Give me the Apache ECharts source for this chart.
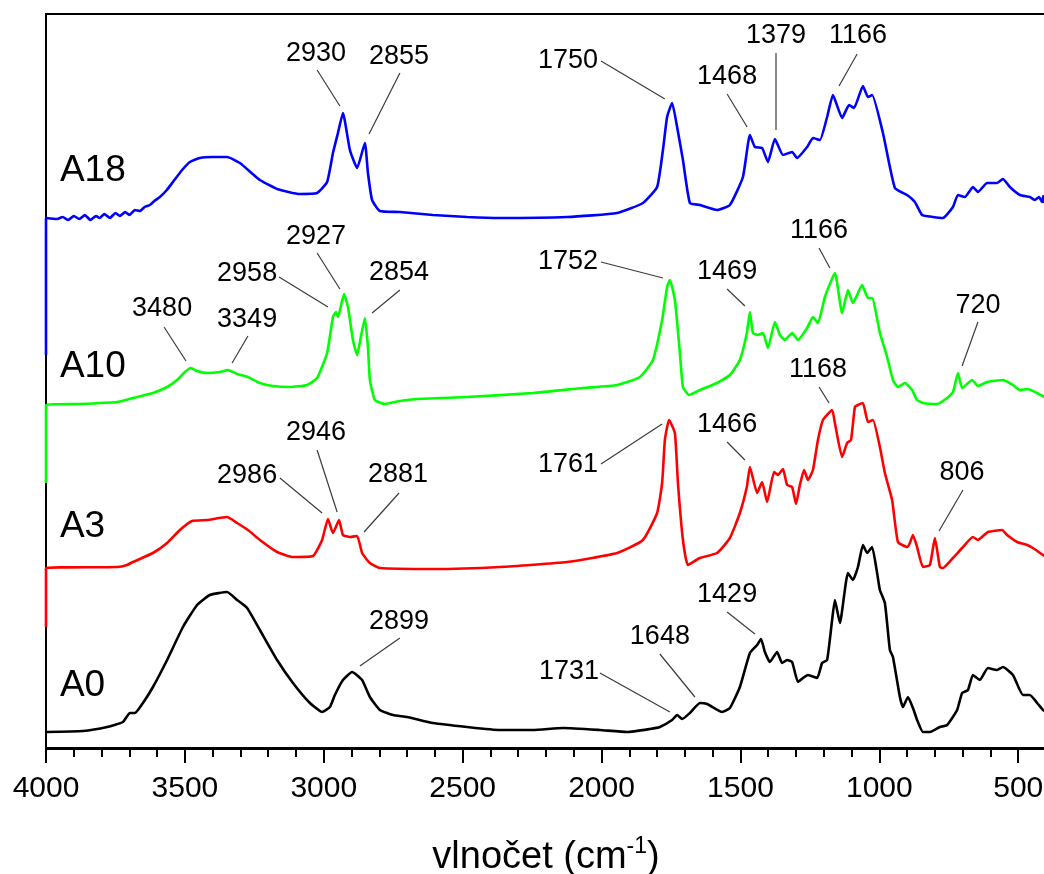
<!DOCTYPE html>
<html>
<head>
<meta charset="utf-8">
<script src="https://cdn.jsdelivr.net/npm/echarts@6/dist/echarts.min.js"></script>
<style>
  html, body { margin: 0; padding: 0; background: #fff; }
  #chart { width: 1044px; height: 874px; }
</style>
</head>
<body>
<div id="chart"></div>
<script>
const FONT = '"Liberation Sans", Arial, sans-serif';

// FTIR spectra, stacked: [wavenumber (cm-1), intensity incl. offset]
const a18 = [
  [4000, 393], [4000, 530], [3960, 529], [3940, 531], [3920, 528], [3900, 532], [3880, 529],
  [3860, 533], [3840, 528], [3820, 532], [3806, 530], [3790, 534], [3770, 530], [3750, 535],
  [3734, 532], [3715, 536], [3700, 533], [3680, 538], [3662, 537], [3645, 541], [3626, 543],
  [3610, 547], [3590, 551], [3565, 558], [3543, 566], [3510, 578], [3482, 586], [3446, 590],
  [3400, 591], [3348, 591], [3302, 585], [3260, 575], [3230, 568], [3168, 559], [3086, 554],
  [3024, 555], [2988, 566], [2967, 595], [2949, 615], [2931, 635], [2906, 598], [2880, 580],
  [2852, 605], [2841, 575], [2826, 548], [2798, 537], [2726, 536], [2607, 533], [2484, 531],
  [2366, 530], [2124, 531], [1944, 535], [1851, 545], [1800, 561], [1779, 598], [1764, 631],
  [1746, 645], [1728, 621], [1707, 588], [1682, 545], [1646, 543], [1584, 538], [1538, 543],
  [1491, 571], [1466, 613], [1448, 601], [1422, 600], [1401, 586], [1376, 609], [1347, 593],
  [1314, 596], [1296, 590], [1260, 601], [1239, 610], [1214, 608], [1188, 631], [1167, 653],
  [1134, 630], [1109, 643], [1091, 640], [1059, 662], [1041, 651], [1026, 653], [987, 615],
  [944, 560], [900, 553], [872, 546], [846, 533], [807, 531], [771, 530], [735, 541],
  [717, 553], [692, 551], [663, 561], [645, 556], [612, 565], [576, 565], [555, 569],
  [530, 561], [494, 553], [458, 551], [440, 548], [425, 551], [414, 546], [410, 552], [406, 545]
];

const a10 = [
  [4000, 265], [4000, 343], [3878, 344], [3744, 346], [3687, 350], [3615, 355], [3564, 361],
  [3528, 368], [3500, 376], [3478, 380], [3456, 377], [3420, 375], [3374, 376], [3345, 378],
  [3312, 374], [3273, 371], [3230, 365], [3183, 362], [3122, 361], [3060, 363], [3024, 370],
  [2988, 395], [2967, 431], [2956, 436], [2949, 431], [2927, 454], [2913, 441], [2895, 408],
  [2880, 393], [2870, 406], [2852, 430], [2841, 401], [2834, 368], [2816, 348], [2780, 344],
  [2726, 347], [2664, 349], [2484, 351], [2247, 355], [2067, 360], [1944, 363], [1862, 371],
  [1815, 388], [1782, 428], [1764, 461], [1754, 468], [1736, 448], [1718, 395], [1707, 361],
  [1685, 353], [1646, 358], [1584, 365], [1538, 373], [1502, 388], [1477, 415], [1466, 436],
  [1455, 415], [1437, 413], [1419, 415], [1401, 400], [1376, 426], [1358, 413], [1340, 408],
  [1314, 415], [1293, 408], [1260, 420], [1239, 431], [1221, 425], [1196, 451], [1160, 475],
  [1134, 435], [1113, 458], [1095, 445], [1062, 463], [1041, 450], [1026, 450], [998, 415],
  [972, 391], [951, 368], [933, 361], [908, 365], [882, 358], [864, 348], [843, 345],
  [792, 344], [756, 350], [735, 356], [717, 375], [702, 360], [666, 368], [645, 362],
  [612, 366], [555, 368], [519, 363], [494, 358], [465, 359], [432, 355], [406, 351]
];

const a3 = [
  [4000, 121], [4000, 180], [3744, 181], [3708, 183], [3687, 186], [3615, 195], [3564, 205],
  [3518, 218], [3474, 227], [3420, 228], [3348, 231], [3312, 225], [3273, 218], [3230, 208],
  [3168, 196], [3111, 191], [3039, 192], [3006, 208], [2985, 229], [2967, 215], [2945, 228],
  [2931, 213], [2906, 211], [2880, 212], [2862, 195], [2834, 185], [2798, 180], [2607, 179],
  [2366, 181], [2124, 186], [1944, 195], [1851, 208], [1800, 235], [1782, 265], [1772, 308],
  [1757, 328], [1736, 315], [1725, 265], [1707, 208], [1689, 183], [1646, 190], [1584, 195],
  [1538, 210], [1502, 235], [1477, 261], [1466, 281], [1440, 255], [1422, 266], [1404, 246],
  [1379, 276], [1365, 273], [1347, 279], [1332, 263], [1314, 261], [1300, 244], [1286, 263],
  [1271, 278], [1257, 268], [1239, 278], [1221, 308], [1203, 328], [1170, 338], [1160, 325],
  [1134, 291], [1116, 305], [1102, 308], [1088, 341], [1077, 343], [1059, 345], [1041, 326],
  [1023, 328], [998, 301], [980, 275], [954, 248], [933, 206], [900, 201], [890, 205],
  [879, 213], [864, 201], [843, 181], [818, 183], [800, 210], [782, 181], [771, 180],
  [735, 190], [702, 200], [663, 211], [645, 208], [609, 216], [558, 218], [540, 213],
  [504, 206], [468, 203], [447, 200], [411, 193], [406, 192]
];

const a0 = [
  [4000, 16], [3867, 17], [3780, 21], [3723, 26], [3698, 35], [3680, 35], [3651, 45],
  [3615, 61], [3564, 88], [3507, 121], [3456, 143], [3410, 153], [3348, 156], [3312, 148],
  [3276, 140], [3230, 118], [3168, 88], [3111, 65], [3050, 45], [3006, 36], [2978, 41],
  [2960, 53], [2931, 68], [2898, 76], [2862, 68], [2834, 51], [2798, 38], [2751, 33],
  [2700, 31], [2607, 25], [2484, 21], [2366, 18], [2247, 18], [2139, 20], [2006, 18],
  [1908, 16], [1826, 19], [1790, 21], [1746, 28], [1728, 33], [1710, 29], [1682, 35],
  [1646, 45], [1620, 44], [1566, 36], [1538, 40], [1502, 61], [1466, 95], [1440, 103],
  [1426, 109], [1412, 96], [1394, 86], [1368, 96], [1350, 85], [1332, 88], [1314, 86],
  [1293, 66], [1275, 70], [1257, 73], [1224, 70], [1206, 85], [1188, 88], [1170, 128],
  [1160, 148], [1142, 125], [1113, 175], [1095, 168], [1077, 181], [1059, 203], [1044, 195],
  [1026, 201], [1008, 175], [998, 158], [980, 145], [962, 98], [951, 91], [926, 51],
  [915, 41], [897, 51], [879, 40], [864, 28], [843, 16], [818, 16], [782, 21], [756, 23],
  [720, 38], [702, 55], [681, 58], [663, 73], [638, 68], [609, 80], [576, 78], [555, 81],
  [519, 73], [483, 53], [458, 53], [432, 45], [411, 38], [406, 37]
];

const sampleNames = ['A18', 'A10', 'A3', 'A0'];
const sampleColors = ['#0000ff', '#00ff00', '#ff0000', '#000000'];
const sampleData = [a18, a10, a3, a0];
// where the sample name sits: [wavenumber, intensity]
const namePos = [[3950, 577], [3950, 381], [3950, 221], [3950, 62]];

// peak labels: text, text centre (wn, y), leader line start (wn, y), end (wn, y)
const peaks = [
  ['2930', 3028, 694, 3024, 678, 2942, 642],
  ['2855', 2729, 691, 2726, 675, 2837, 614],
  ['1750', 2121, 687, 2002, 687, 1772, 649],
  ['1468', 1548, 671, 1548, 654, 1476, 621],
  ['1379', 1372, 712, 1372, 695, 1372, 618],
  ['1166', 1077, 712, 1080, 694, 1145, 662],
  ['3480', 3582, 439, 3575, 421, 3496, 387],
  ['3349', 3276, 428, 3273, 412, 3330, 385],
  ['2958', 3276, 474, 3161, 471, 2985, 441],
  ['2927', 3028, 511, 3024, 495, 2942, 459],
  ['2854', 2729, 475, 2726, 458, 2826, 435],
  ['1752', 2121, 486, 2002, 486, 1779, 470],
  ['1469', 1548, 476, 1548, 459, 1484, 442],
  ['1166', 1217, 517, 1217, 500, 1178, 480],
  ['720', 645, 442, 645, 426, 702, 382],
  ['2946', 3028, 315, 3024, 298, 2952, 236],
  ['2986', 3276, 272, 3158, 270, 3006, 235],
  ['2881', 2733, 273, 2729, 255, 2855, 216],
  ['1761', 2121, 283, 2002, 284, 1782, 324],
  ['1466', 1548, 323, 1548, 306, 1484, 288],
  ['1168', 1221, 378, 1217, 361, 1181, 345],
  ['806', 702, 275, 699, 258, 785, 217],
  ['2899', 2729, 126, 2726, 110, 2870, 82],
  ['1731', 2117, 76, 2006, 75, 1754, 36],
  ['1648', 1790, 111, 1790, 94, 1664, 51],
  ['1429', 1548, 153, 1548, 136, 1448, 114]
];

const chart = echarts.init(document.getElementById('chart'));

const baseX = {
  type: 'value',
  min: -4000,
  max: -400,
  position: 'bottom',
  splitLine: { show: false }
};

const option = {
  animation: false,
  backgroundColor: '#ffffff',
  grid: {
    left: 46,
    right: -2,
    top: 14,
    bottom: 125,
    show: true,
    borderColor: '#000',
    borderWidth: 2,
    outerBoundsMode: 'none'
  },
  xAxis: [
    Object.assign({}, baseX, {
      interval: 500,
      name: '{a|vlnočet (cm}{b|-1}{a|)}',
      nameLocation: 'middle',
      nameGap: 86,
      nameTextStyle: {
        rich: {
          a: { fontSize: 38, lineHeight: 42, fontFamily: FONT, color: '#000', verticalAlign: 'bottom' },
          b: { fontSize: 23, lineHeight: 23, fontFamily: FONT, color: '#000', verticalAlign: 'top' }
        }
      },
      axisLine: { show: true, lineStyle: { color: '#000', width: 2 } },
      axisTick: { show: true, inside: false, length: 15, lineStyle: { color: '#000', width: 2 } },
      axisLabel: {
        show: true,
        margin: 25,
        fontSize: 30,
        fontFamily: FONT,
        color: '#000',
        showMaxLabel: false,
        formatter: (v) => String(-v)
      }
    }),
    Object.assign({}, baseX, {
      interval: 100,
      axisLine: { show: false },
      axisTick: { show: true, inside: false, length: 8, lineStyle: { color: '#000', width: 2 } },
      axisLabel: { show: false }
    })
  ],
  yAxis: {
    type: 'value',
    min: -1,
    max: 734,
    show: false
  },
  series: sampleData.map((d, i) => ({
    name: sampleNames[i],
    type: 'line',
    showSymbol: false,
    clip: false,
    smooth: 0.15,
    lineStyle: { color: sampleColors[i], width: 2.6 },
    data: d.map((p) => [-p[0], p[1]]),
    z: 3
  }))
};

chart.setOption(option);

const px = (wn, v) => chart.convertToPixel({ xAxisIndex: 0, yAxisIndex: 0 }, [-wn, v]);
const graphics = [];

peaks.forEach((p) => {
  const t = px(p[1], p[2]);
  const s = px(p[3], p[4]);
  const e = px(p[5], p[6]);
  graphics.push({
    type: 'line',
    silent: true,
    shape: { x1: s[0], y1: s[1], x2: e[0], y2: e[1] },
    style: { stroke: '#3c3c3c', lineWidth: 1.2 }
  });
  graphics.push({
    type: 'text',
    silent: true,
    x: t[0],
    y: t[1],
    style: {
      text: p[0],
      fontSize: 27,
      fontFamily: FONT,
      fill: '#000',
      align: 'center',
      verticalAlign: 'middle'
    }
  });
});

sampleNames.forEach((n, i) => {
  const t = px(namePos[i][0], namePos[i][1]);
  graphics.push({
    type: 'text',
    silent: true,
    x: t[0],
    y: t[1],
    style: {
      text: n,
      fontSize: 37,
      fontFamily: FONT,
      fill: '#000',
      align: 'left',
      verticalAlign: 'middle'
    }
  });
});

chart.setOption({ graphic: graphics });

window.addEventListener('resize', () => chart.resize());
</script>
</body>
</html>
